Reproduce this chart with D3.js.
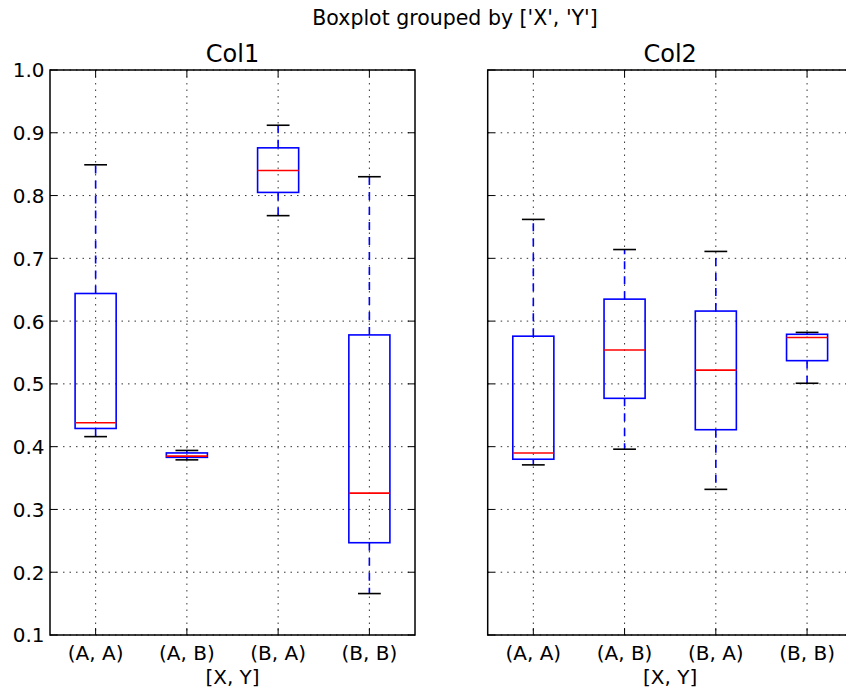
<!DOCTYPE html>
<html><head><meta charset="utf-8">
<script src="https://cdn.jsdelivr.net/npm/d3@7"></script>
<style>body{margin:0;background:#fff}svg{display:block}text{font-family:"DejaVu Sans",sans-serif;fill:#000}</style>
</head><body><div id="chart"></div>
<script>
const categories = ["(A, A)", "(A, B)", "(B, A)", "(B, B)"];
const panels = ["Col1", "Col2"];
const yTicks = [0.1, 0.2, 0.3, 0.4, 0.5, 0.6, 0.7, 0.8, 0.9, 1.0];
// [lower whisker, q1, median, q3, upper whisker]
const col1Stats = [
  [0.416, 0.429, 0.438, 0.644, 0.849],
  [0.379, 0.383, 0.385, 0.390, 0.394],
  [0.768, 0.805, 0.840, 0.876, 0.912],
  [0.166, 0.247, 0.326, 0.578, 0.830]
];
const col2Stats = [
  [0.371, 0.380, 0.390, 0.576, 0.762],
  [0.396, 0.477, 0.554, 0.635, 0.714],
  [0.332, 0.427, 0.522, 0.616, 0.711],
  [0.501, 0.537, 0.574, 0.579, 0.582]
];
const statsList = [col1Stats, col2Stats];

(function () {
const W = 846, H = 690;
const svg = d3.select("#chart").append("svg").attr("width", W).attr("height", H);

svg.append("text").attr("x", 455).attr("y", 25).attr("text-anchor", "middle")
  .style("font-size", "20.5px").text("Boxplot grouped by ['X', 'Y']");

const pTop = 70, pBot = 635, pw = 365;
const lefts = [50, 487.7];
const y = d3.scaleLinear().domain([0.1, 1.0]).range([pBot, pTop]);

panels.forEach((name, pi) => {
  const x0 = lefts[pi];
  const x = d3.scaleLinear().domain([0.5, 4.5]).range([x0, x0 + pw]);
  const g = svg.append("g");
  const stats = statsList[pi];
  const step = x(2) - x(1);

  // grid
  g.selectAll(".gy").data(yTicks).join("line")
    .attr("x1", x0).attr("x2", x0 + pw).attr("y1", d => y(d)).attr("y2", d => y(d))
    .attr("stroke", "#000").attr("stroke-width", 0.8).attr("stroke-dasharray", "1.5,5");
  g.selectAll(".gx").data(categories).join("line")
    .attr("x1", (d, i) => x(i + 1)).attr("x2", (d, i) => x(i + 1)).attr("y1", pTop).attr("y2", pBot)
    .attr("stroke", "#000").attr("stroke-width", 0.8).attr("stroke-dasharray", "1.5,5");

  // boxes
  const bw = 0.45 * step, cw = 0.25 * step;
  stats.forEach((s, i) => {
    const cx = x(i + 1);
    const [lo, q1, med, q3, hi] = s;
    g.append("line").attr("x1", cx).attr("x2", cx).attr("y1", y(q1)).attr("y2", y(lo))
      .attr("stroke", "#0000ff").attr("stroke-width", 1.6).attr("stroke-dasharray", "8,7");
    g.append("line").attr("x1", cx).attr("x2", cx).attr("y1", y(q3)).attr("y2", y(hi))
      .attr("stroke", "#0000ff").attr("stroke-width", 1.6).attr("stroke-dasharray", "8,7");
    [lo, hi].forEach(v => g.append("line").attr("x1", cx - cw / 2).attr("x2", cx + cw / 2)
      .attr("y1", y(v)).attr("y2", y(v)).attr("stroke", "#000").attr("stroke-width", 1.6));
    g.append("rect").attr("x", cx - bw / 2).attr("width", bw).attr("y", y(q3)).attr("height", y(q1) - y(q3))
      .attr("fill", "none").attr("stroke", "#0000ff").attr("stroke-width", 1.6);
    g.append("line").attr("x1", cx - bw / 2).attr("x2", cx + bw / 2).attr("y1", y(med)).attr("y2", y(med))
      .attr("stroke", "#ff0000").attr("stroke-width", 1.6);
  });

  // ticks (inward, all sides)
  const tl = 7;
  yTicks.forEach(t => {
    g.append("line").attr("x1", x0).attr("x2", x0 + tl).attr("y1", y(t)).attr("y2", y(t)).attr("stroke", "#000").attr("stroke-width", 1);
    g.append("line").attr("x1", x0 + pw).attr("x2", x0 + pw - tl).attr("y1", y(t)).attr("y2", y(t)).attr("stroke", "#000").attr("stroke-width", 1);
  });
  categories.forEach((c, i) => {
    g.append("line").attr("x1", x(i + 1)).attr("x2", x(i + 1)).attr("y1", pBot).attr("y2", pBot - tl).attr("stroke", "#000").attr("stroke-width", 1);
    g.append("line").attr("x1", x(i + 1)).attr("x2", x(i + 1)).attr("y1", pTop).attr("y2", pTop + tl).attr("stroke", "#000").attr("stroke-width", 1);
    g.append("text").attr("x", x(i + 1)).attr("y", 660).attr("text-anchor", "middle")
      .style("font-size", "20px").text(c);
  });

  // frame
  g.append("rect").attr("x", x0).attr("y", pTop).attr("width", pw).attr("height", pBot - pTop)
    .attr("fill", "none").attr("stroke", "#000").attr("stroke-width", 1.5);

  if (pi === 0) {
    yTicks.forEach(t => g.append("text").attr("x", x0 - 5.5).attr("y", y(t)).attr("dy", "0.37em")
      .attr("text-anchor", "end").style("font-size", "20px").text(d3.format(".1f")(t)));
  }
  g.append("text").attr("x", x0 + pw / 2).attr("y", 61.5).attr("text-anchor", "middle")
    .style("font-size", "24px").text(name);
  g.append("text").attr("x", x0 + pw / 2).attr("y", 684).attr("text-anchor", "middle")
    .style("font-size", "20px").text("[X, Y]");
});
})();
</script></body></html>
